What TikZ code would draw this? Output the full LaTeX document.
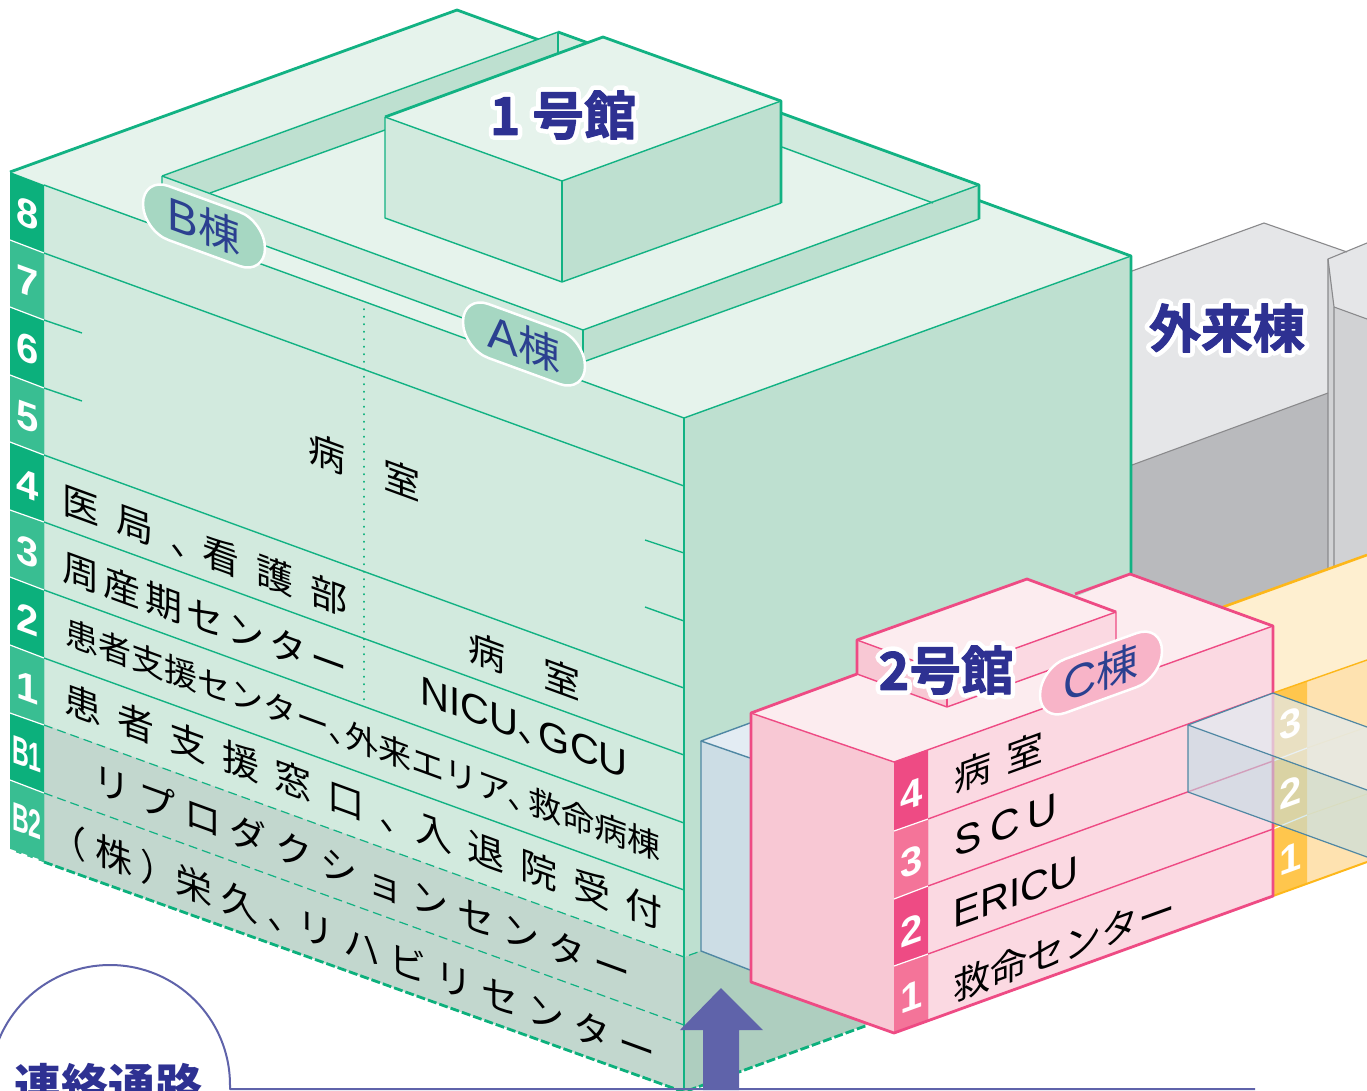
\documentclass[tikz,border=0pt]{standalone}
\usepackage{fontspec}
\setmainfont{Noto Sans CJK JP}
\newfontfamily\latn{Liberation Sans}
\newfontfamily\hlfont[FakeBold=20]{Noto Sans CJK JP Bold}
\newfontfamily\hlfontb[FakeBold=2]{Noto Sans CJK JP Bold}
\definecolor{gline}{HTML}{12B283}
\definecolor{groof}{HTML}{E6F3EC}
\definecolor{gleft}{HTML}{D2EADE}
\definecolor{gright}{HTML}{BEE0D0}
\definecolor{gdl}{HTML}{C2D7CE}
\definecolor{gdr}{HTML}{AECEBF}
\definecolor{gband}{HTML}{0CB07C}
\definecolor{gbandl}{HTML}{39BE92}
\definecolor{pline}{HTML}{EE4B84}
\definecolor{proof}{HTML}{FCECEF}
\definecolor{pleft}{HTML}{F8C8D4}
\definecolor{pright}{HTML}{FBD9E2}
\definecolor{pbandl}{HTML}{F47499}
\definecolor{yline}{HTML}{FDB71A}
\definecolor{yroof}{HTML}{FEEFD0}
\definecolor{yright}{HTML}{FEE2B0}
\definecolor{yband}{HTML}{FFC64D}
\definecolor{bline}{HTML}{4F87A3}
\definecolor{btop}{HTML}{E3ECF3}
\definecolor{bface}{HTML}{CCDDE5}
\definecolor{glasstop}{HTML}{E1EBF0}
\definecolor{glassfront}{HTML}{BEDEE6}
\definecolor{pillg}{HTML}{A6D7C2}
\definecolor{pillp}{HTML}{F8B4C8}
\definecolor{navy}{HTML}{2E3192}
\definecolor{pilltext}{HTML}{2B4090}
\definecolor{arrowc}{HTML}{5F63AA}
\definecolor{grayl}{HTML}{8A8A8C}
\definecolor{grayr}{HTML}{E5E6E8}
\definecolor{grayd}{HTML}{B9BABD}
\definecolor{graym}{HTML}{D1D2D4}
\newcommand\halo[1]{\leavevmode\rlap{\hlfont\color{white}#1}{\hlfontb\color{navy}#1}}
\newcommand\fsz[1]{\fontsize{#1}{#1}\selectfont}
\begin{document}
\begin{tikzpicture}[x=1pt,y=-1pt,line join=round,
  lface/.style={transform shape,cm={1,-0.365,0,1,#1},inner sep=0pt},
  rface/.style={transform shape,cm={1,0.362,0,1,#1},inner sep=0pt},
  thin g/.style={draw=gline,line width=1.4pt},
  thick g/.style={draw=gline,line width=2.8pt},
  thin p/.style={draw=pline,line width=1.4pt},
  thick p/.style={draw=pline,line width=2.8pt},
  num/.style={text=white,font=\latn\bfseries\fsz{40}},
  pill/.style={fill=#1,draw=white,line width=2.5pt,rounded corners=27pt,minimum width=122pt,minimum height=54pt,text=pilltext,font=\fsz{42}},
  body/.style={font=\fsz{37},text=black},
  title/.style={font=\fsz{52}},
  sep/.style={draw=white,line width=1.2pt}]
\useasboundingbox (0,0) rectangle (1367,1090);
\clip (0,0) rectangle (1367,1090);
% grey out-patient building
\fill[grayr] (1132,271)--(1264,223)--(1347,252)--(1367,243)--(1367,480)--(1132,480)--cycle;
\fill[grayd] (1132,465)--(1328,393)--(1328,640)--(1132,640)--cycle;
\fill[grayr] (1328,259)--(1367,243)--(1367,319)--(1334,307)--cycle;
\fill[graym] (1328,259)--(1334,307)--(1334,640)--(1328,640)--cycle;
\fill[graym] (1334,307)--(1367,319)--(1367,640)--(1334,640)--cycle;
\draw[grayl,line width=1.1pt] (1132,271)--(1264,223)--(1347,252);
\draw[grayl,line width=1.1pt] (1132,465)--(1328,393);
\draw[grayl,line width=1.1pt] (1367,243)--(1328,259)--(1328,640);
\draw[grayl,line width=1.1pt] (1328,259)--(1334,307)--(1334,640);
\draw[grayl,line width=1.1pt] (1334,307)--(1367,319);
% yellow building
\fill[yroof] (1223,607)--(1367,555)--(1367,660)--(1273,693)--cycle;
\fill[yright] (1273,693)--(1367,660)--(1367,862)--(1273,896)--cycle;
\fill[yband] (1273,693)--(1307,681)--(1307,884)--(1273,896)--cycle;
\draw[yline,line width=2.6pt] (1223,607)--(1367,555);
\draw[yline,line width=1.4pt] (1273,693)--(1367,660);
\draw[yline,line width=2pt] (1273,896)--(1367,862);
\draw[yline!50!white,line width=1pt] (1307,748)--(1367,727);
\draw[yline!50!white,line width=1pt] (1307,815)--(1367,794);
\draw[sep] (1273,761)--(1307,748);
\draw[sep] (1273,829)--(1307,815);
% main building 1
\fill[groof] (10,172)--(457,10)--(1131,256)--(684,418)--cycle;
\fill[gleft] (10,172)--(684,418)--(684,957)--(10,712)--cycle;
\fill[gdl] (10,712)--(684,957)--(684,1092)--(10,850)--cycle;
\fill[gright] (684,418)--(1131,256)--(1131,640)--(900,880)--(684,957)--cycle;
\fill[gdr] (684,957)--(880,885)--(880,1020)--(684,1092)--cycle;
% floor band
\fill[gband] (10,172)--(44,185)--(44,862)--(10,850)--cycle;
\foreach \a/\b in {240/253,375/388,510/522,645/658}{
  \fill[gbandl] (10,\a)--(44,\b)--(44,\b+67.5)--(10,\a+67.5)--cycle;
}
\fill[gbandl] (10,780)--(44,793)--(44,862)--(10,850)--cycle;
\foreach \a/\b in {240/253,307/320,375/388,442/455,510/522,577/590,645/658,713/725,780/793}{
  \draw[sep] (10,\a)--(44,\b);
}
\draw[white,line width=2pt,dash pattern=on 6pt off 6pt] (10,850)--(44,862);
% floor lines
\draw[thin g] (44,185)--(684,418);
\draw[thin g] (44,253)--(684,486);
\draw[thin g] (44,320)--(82,333);
\draw[thin g] (44,388)--(82,401);
\draw[thin g] (645,540)--(684,553);
\draw[thin g] (645,607)--(684,621);
\draw[thin g] (44,455)--(684,688);
\draw[thin g] (44,522)--(684,755);
\draw[thin g] (44,590)--(684,823);
\draw[thin g] (44,658)--(684,890);
\draw[draw=gline,line width=1.2pt,dash pattern=on 9pt off 5pt] (44,725)--(684,957)--(701,951);
\draw[draw=gline,line width=1.2pt,dash pattern=on 9pt off 5pt] (44,793)--(684,1025);
\draw[gband,line width=2.8pt,dash pattern=on 9pt off 3pt] (44,862)--(684,1092)--(868,1025);
\draw[gband,line width=1.6pt,line cap=round,dash pattern=on 0.5pt off 7pt] (364,309)--(364,700);
\draw[thin g] (684,418)--(684,1090);
\draw[thin g] (684,418)--(1131,256);
\draw[thick g] (10,172)--(457,10)--(1131,256)--(1131,580);
% raised plate
\fill[groof] (162,176)--(558,32)--(979,185)--(583,330)--cycle;
\fill[gright] (162,176)--(558,32)--(559,67)--(210,193)--cycle;
\fill[gleft] (558,32)--(979,185)--(933,203)--(559,67)--cycle;
\fill[gleft] (162,176)--(583,330)--(583,362)--(162,208)--cycle;
\fill[gright] (583,330)--(979,185)--(979,219)--(583,362)--cycle;
\draw[thin g] (162,176)--(558,32);
\draw[thin g] (558,32)--(558,53);
\draw[thin g] (162,176)--(583,330)--(979,185);
\draw[thin g] (210,193)--(385,130);
\draw[thin g] (782,147)--(933,203);
\draw[thin g] (162,176)--(162,208)--(583,362)--(979,219);
\draw[thin g] (583,330)--(583,362);
\draw[thick g] (558,32)--(979,185)--(979,219);
% block of building 1
\fill[groof] (385,117)--(603,37)--(781,101)--(562,181)--cycle;
\fill[gleft] (385,117)--(562,181)--(562,282)--(385,218)--cycle;
\fill[gright] (562,181)--(781,101)--(781,203)--(562,282)--cycle;
\draw[thin g] (385,117)--(562,181)--(781,101);
\draw[thin g] (562,181)--(562,282);
\draw[thin g] (385,117)--(385,218)--(562,282)--(781,203);
\draw[thick g] (385,117)--(603,37)--(781,101)--(781,203);
% blue link box
\fill[btop] (701,741)--(750,723)--(750,758)--cycle;
\fill[bface] (701,741)--(750,758)--(750,970)--(701,951)--cycle;
\draw[bline,line width=1.4pt] (750,723)--(701,741)--(750,758);
\draw[bline,line width=1.4pt] (701,741)--(701,951)--(750,970);
% pink building
\fill[pleft] (751,713)--(894,762)--(894,1033)--(751,982)--cycle;
\fill[proof] (751,713)--(857,674)--(857,640)--(1027,579)--(1075,597)--(1130,574)--(1273,626)--(894,762)--cycle;
\fill[pright] (894,762)--(1273,626)--(1273,896)--(894,1033)--cycle;
\fill[pline] (894,762)--(928,750)--(928,1021)--(894,1033)--cycle;
\fill[pbandl] (894,831)--(928,819)--(928,886)--(894,899)--cycle;
\fill[pbandl] (894,966)--(928,954)--(928,1021)--(894,1033)--cycle;
\fill[pleft] (857,640)--(947,673)--(947,707)--(857,674)--cycle;
\fill[pright] (947,673)--(1116,612)--(1116,646)--(947,707)--cycle;
\draw[thin p] (751,713)--(894,762)--(1273,626);
\draw[thin p] (857,640)--(947,673)--(1116,612)--(1116,646)--(947,707)--(857,674);
\draw[thin p] (947,673)--(947,707);
\draw[thin p] (928,819)--(1273,693);
\draw[thin p] (928,886)--(1273,761);
\draw[thin p] (928,954)--(1273,829);
\draw[sep] (894,831)--(928,819);
\draw[sep] (894,899)--(928,886);
\draw[sep] (894,966)--(928,954);
\draw[thick p] (857,674)--(751,713)--(751,982)--(894,1033)--(1273,896)--(1273,626)--(1130,574)--(1075,594);
\draw[thick p] (857,674)--(857,640)--(1027,579)--(1116,612);
% glass bridge
\fill[glasstop,fill opacity=.72] (1188,725)--(1273,693)--(1367,727)--(1367,790)--cycle;
\fill[glassfront,fill opacity=.57] (1188,725)--(1367,790)--(1367,857)--(1188,792)--cycle;
\draw[bline,line width=1.2pt] (1367,727)--(1273,693)--(1188,725)--(1367,790);
\draw[bline,line width=1.2pt] (1188,725)--(1188,792)--(1367,857);
% floor numbers
\foreach \n/\y in {8/214,7/282,6/349,5/417,4/485,3/552,2/620,1/688}{
  \node[lface={(27.5,\y)},num] (g\n) at (0,0) {\n};
}
\node[lface={(27,754)},num] (gB1) at (0,0) {\scalebox{.58}[1]{B1}};
\node[lface={(27,821)},num] (gB2) at (0,0) {\scalebox{.58}[1]{B2}};
\foreach \n/\y in {4/795,3/862,2/930,1/997}{
  \node[rface={(912,\y)},num] (p\n) at (0,0) {\n};
}
\foreach \n/\y in {3/724,2/792,1/859}{
  \node[rface={(1291,\y)},num] (y\n) at (0,0) {\n};
}
% left-face text
\node[lface={(62,498)},body,anchor=west] (t1) at (0,0) {\addfontfeature{LetterSpace=46}医局、\hspace{-5pt}看護部};
\node[lface={(62,565)},body,anchor=west] (t2) at (0,0) {\addfontfeature{LetterSpace=12}周産期センター};
\node[lface={(65,631)},body,anchor=west,font=\fsz{33}] (t3) at (0,0) {患者支援センター、\hspace{-16pt}外来エリア、\hspace{-12pt}救命病棟};
\node[lface={(64.5,697)},body,anchor=west] (t4) at (0,0) {\addfontfeature{LetterSpace=42}患者支援窓口、\hspace{-1.5pt}入退院受付};
\node[lface={(93,777)},body,anchor=west] (t5) at (0,0) {\addfontfeature{LetterSpace=23}リプロダクションセンター};
\node[lface={(49,832)},body,anchor=west] (t6) at (0,0) {\addfontfeature{LetterSpace=24}（株）\hspace{-2pt}栄\hspace{9pt}久、\hspace{-7pt}リハビリセンター};
\node[lface={(364,467)},body] (t7) at (0,0) {病\hspace{38pt}室};
\node[lface={(524,666)},body] (t8) at (0,0) {病\hspace{38pt}室};
\node[lface={(524,728)},body] (t9) at (0,0) {{\latn\fsz{40}NICU}、\hspace{-16pt}{\latn\fsz{40}GCU}};
% right-face text
\node[rface={(999,762)},body] (r1) at (0,0) {病\hspace{15pt}室};
\node[rface={(1006,825)},body] (r2) at (0,0) {\latn\fsz{41}S\hspace{8pt}C\hspace{8pt}U};
\node[rface={(1016,892)},body] (r3) at (0,0) {\latn\fsz{40}ERICU};
\node[rface={(1064,947)},body] (r4) at (0,0) {救命センター};
% pills
\node[lface={(204,226)},pill=pillg] (pB) at (0,0) {{\latn\fsz{46}B}棟};
\node[lface={(524,344)},pill=pillg] (pA) at (0,0) {{\latn\fsz{46}A}棟};
\node[rface={(1101,673)},pill=pillp] (pC) at (0,0) {{\latn\fsz{46}C}棟};
% titles
\node[title] (n1) at (563,115) {\halo{1 号館}};
\node[title] (n2) at (946,670) {\halo{2号館}};
\node[title] (n3) at (1227,328) {\halo{外来棟}};
% link passage callout
\coordinate (le) at (1255,1089);
\draw[arrowc,line width=2pt] (-10,1085) arc[start angle=180,end angle=360,radius=120] |- (le);
\node[font=\fsz{47}\bfseries,text=navy,anchor=north] (link) at (108,1060) {連絡通路};
\fill[arrowc] (721,988)--(763,1030)--(739,1030)--(739,1090)--(703,1090)--(703,1030)--(680,1030)--cycle;
\end{tikzpicture}
\end{document}
